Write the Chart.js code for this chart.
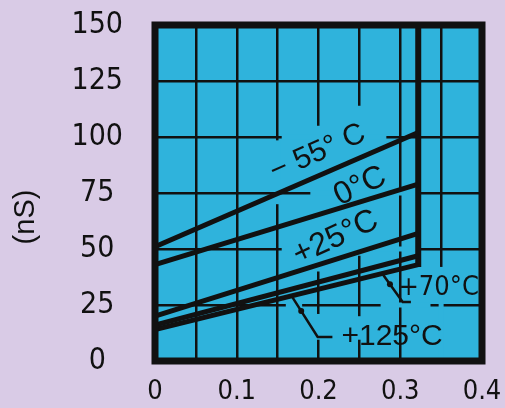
<!DOCTYPE html>
<html>
<head>
<meta charset="utf-8">
<script src="https://cdn.jsdelivr.net/npm/chart.js@4"></script>
<style>
    body { margin: 0; background: #d9cbe6; }
    canvas { display: block; }
</style>
</head>
<body>
<canvas id="chart" width="505" height="408"></canvas>
<script>
// values
const xTicks = [0, 0.1, 0.2, 0.3, 0.4];
const yTicks = [0, 25, 50, 75, 100, 125, 150];
const xEnds = [0, 0.322];
const m55 = [51, 102];
const c0 = [43, 79];
const p25 = [20, 57];
const p70 = [16, 47];
const p125 = [14, 43];
const cutX = [0.322, 0.322];
const cutY = [150, 42];
const tempLabels = ["\u2212 55\u00b0 C", "0\u00b0C", "+25\u00b0C", "+70\u00b0C", "+125\u00b0C"];
const labelX = [0.199, 0.251, 0.221, 0.347, 0.29];
const labelY = [93, 78, 55, 32.5, 11];
const yTitle = "(nS)";

const cyan = "#2fb3dc";
const ink = "#111";
const narrow = "'DejaVu Sans Condensed', sans-serif";
const regular = "'Liberation Sans', Arial, sans-serif";

function pts(xs, ys) {
    return xs.map((x, i) => ({ x: x, y: ys[i] }));
}

let series = [m55, c0, p25, p70, p125];

let datasets = series.map(s => ({
    data: pts(xEnds, s),
    borderColor: ink,
    borderWidth: 5,
    pointRadius: 0,
    showLine: true
}));
datasets.push({
    data: pts(cutX, cutY),
    borderColor: ink,
    borderWidth: 6,
    pointRadius: 0,
    showLine: true
});

// leader lines for the two bottom labels, first segment gets a dot
const leaders = [
    [[0.279, 38.5], [0.303, 26.3], [0.313, 26.3]],
    [[0.168, 28.5], [0.199, 10.7], [0.217, 10.7]]
];
const labelStyle = [
    { angle: -24, font: "30px " + regular },
    { angle: -25, font: "32px " + regular },
    { angle: -25, font: "32px " + regular },
    { angle: 0, font: "27px " + narrow },
    { angle: 0, font: "30px " + regular }
];
// pieces of grid that are left blank around the labels
const gaps = [
    [0.155, 100, 0.283, 100],
    [0.15, 98.5, 0.15, 70],
    [0.2, 105, 0.2, 40],
    [0.25, 114, 0.25, 47],
    [0.19, 75, 0.32, 75],
    [0.155, 50, 0.32, 50],
    [0.16, 25, 0.18, 25],
    [0.276, 25, 0.337, 25],
    [0.2, 21, 0.2, 9.5],
    [0.25, 20, 0.25, 9.5],
    [0.35, 42, 0.35, 1]
];

const frame = {
    id: "frame",
    beforeDraw(chart) {
        let a = chart.chartArea, ctx = chart.ctx;
        ctx.save();
        ctx.fillStyle = cyan;
        ctx.fillRect(a.left, a.top, a.right - a.left, a.bottom - a.top);
        ctx.restore();
    },
    beforeDatasetsDraw(chart) {
        let ctx = chart.ctx, xs = chart.scales.x, ys = chart.scales.y;
        ctx.save();
        ctx.strokeStyle = cyan;
        ctx.lineWidth = 5;
        ctx.lineCap = "butt";
        gaps.forEach(g => {
            ctx.beginPath();
            ctx.moveTo(xs.getPixelForValue(g[0]), ys.getPixelForValue(g[1]));
            ctx.lineTo(xs.getPixelForValue(g[2]), ys.getPixelForValue(g[3]));
            ctx.stroke();
        });
        ctx.restore();
    },
    afterDatasetsDraw(chart) {
        let a = chart.chartArea, ctx = chart.ctx;
        let xs = chart.scales.x, ys = chart.scales.y;
        ctx.save();
        ctx.strokeStyle = ink;
        ctx.fillStyle = ink;

        // leaders
        ctx.lineWidth = 2.5;
        leaders.forEach(l => {
            ctx.beginPath();
            l.forEach((p, i) => {
                let px = xs.getPixelForValue(p[0]), py = ys.getPixelForValue(p[1]);
                if (i == 0) ctx.moveTo(px, py); else ctx.lineTo(px, py);
            });
            ctx.stroke();
            let d0 = l[0], d1 = l[1];
            ctx.beginPath();
            ctx.arc(xs.getPixelForValue(d0[0] * 0.65 + d1[0] * 0.35), ys.getPixelForValue(d0[1] * 0.65 + d1[1] * 0.35), 3, 0, Math.PI * 2);
            ctx.fill();
        });

        // temperature labels
        ctx.textAlign = "center";
        ctx.textBaseline = "middle";
        tempLabels.forEach((t, i) => {
            ctx.save();
            ctx.translate(xs.getPixelForValue(labelX[i]), ys.getPixelForValue(labelY[i]));
            ctx.rotate(labelStyle[i].angle * Math.PI / 180);
            ctx.font = labelStyle[i].font;
            ctx.fillText(t, 0, 0);
            ctx.restore();
        });

        // thick frame
        ctx.lineWidth = 7;
        ctx.strokeRect(a.left, a.top, a.right - a.left, a.bottom - a.top);

        // y title
        ctx.save();
        ctx.translate(26, 217);
        ctx.rotate(-Math.PI / 2);
        ctx.font = "29px " + regular;
        ctx.fillText(yTitle, 0, 0);
        ctx.restore();
        ctx.restore();
    }
};

new Chart(document.getElementById("chart"), {
    type: "scatter",
    data: { datasets: datasets },
    options: {
        responsive: false,
        animation: false,
        layout: { padding: { top: 25, right: 23, left: 0, bottom: 0 } },
        plugins: { legend: { display: false }, tooltip: { enabled: false } },
        scales: {
            x: {
                type: "linear",
                min: xTicks[0],
                max: xTicks[xTicks.length - 1],
                afterFit: s => { s.height = 47; s.paddingLeft = 0; s.paddingRight = 0; },
                grid: { color: ink, lineWidth: 2.5, drawTicks: false },
                border: { display: false },
                ticks: {
                    stepSize: 0.05,
                    padding: 15,
                    color: ink,
                    maxRotation: 0,
                    autoSkip: false,
                    font: { family: narrow, size: 27 },
                    callback: v => {
                        let t = xTicks.find(k => Math.abs(k - v) < 1e-6);
                        return t === undefined ? "" : String(t);
                    }
                }
            },
            y: {
                min: yTicks[0],
                max: yTicks[yTicks.length - 1],
                afterFit: s => { s.width = 155; s.paddingTop = 0; s.paddingBottom = 0; },
                grid: { color: ink, lineWidth: 2.5, drawTicks: false },
                border: { display: false },
                ticks: {
                    stepSize: 25,
                    padding: 32,
                    crossAlign: "center",
                    color: ink,
                    font: { family: narrow, size: 30 },
                    callback: v => yTicks.includes(v) ? String(v) : ""
                }
            }
        }
    },
    plugins: [frame]
});
</script>
</body>
</html>
